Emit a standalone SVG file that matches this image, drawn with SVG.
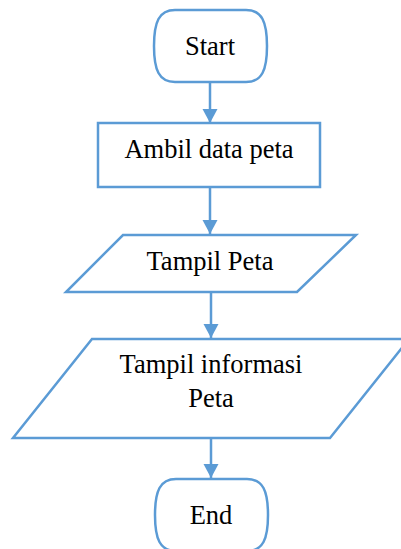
<svg xmlns="http://www.w3.org/2000/svg" width="401" height="549" viewBox="0 0 401 549">
  <style>
    .shape { fill: #ffffff; stroke: #5B9BD5; stroke-width: 2.5; stroke-linejoin: miter; }
    .flow { fill: none; stroke: #5B9BD5; stroke-width: 2.5; }
    .label { font-family: 'Liberation Serif', 'Times New Roman', serif; font-size: 26.5px; fill: #000000; text-anchor: middle; }
  </style>
  <defs>
    <marker id="arrow" markerUnits="userSpaceOnUse" markerWidth="16" markerHeight="16" refX="14" refY="7.5" orient="auto">
      <path d="M0,0 L14,7.5 L0,15 Z" fill="#5B9BD5"/>
    </marker>
  </defs>
  <rect width="401" height="549" fill="#ffffff"/>

  <!-- connectors -->
  <g id="connectors">
    <line class="flow" x1="210" y1="82" x2="210" y2="123" marker-end="url(#arrow)"/>
    <line class="flow" x1="210" y1="187" x2="210" y2="234" marker-end="url(#arrow)"/>
    <line class="flow" x1="211" y1="292" x2="211" y2="338" marker-end="url(#arrow)"/>
    <line class="flow" x1="211" y1="438" x2="211" y2="478" marker-end="url(#arrow)"/>
  </g>

  <!-- start terminator -->
  <g id="start">
    <path class="shape" d="M175,10 H246 C262,10 267,22 267,46 C267,70 262,82 246,82 H175 C159,82 154,70 154,46 C154,22 159,10 175,10 Z"/>
    <text class="label" x="210" y="55">Start</text>
  </g>

  <!-- process: fetch map data -->
  <g id="ambil-data">
    <rect class="shape" x="98" y="123" width="222" height="64"/>
    <text class="label" x="209" y="158">Ambil data peta</text>
  </g>

  <!-- output: show map -->
  <g id="tampil-peta">
    <polygon class="shape" points="123,235 356,235 297,292 66,292"/>
    <text class="label" x="210" y="270">Tampil Peta</text>
  </g>

  <!-- output: show map information -->
  <g id="tampil-informasi">
    <polygon class="shape" points="92,339 409,339 330,438 13,438"/>
    <text class="label" x="211" y="373">Tampil informasi</text>
    <text class="label" x="211" y="407">Peta</text>
  </g>

  <!-- end terminator -->
  <g id="end">
    <path class="shape" d="M176,479 H247 C263,479 268,491 268,515 C268,539 263,551 247,551 H176 C160,551 155,539 155,515 C155,491 160,479 176,479 Z"/>
    <text class="label" x="211" y="524">End</text>
  </g>
</svg>
